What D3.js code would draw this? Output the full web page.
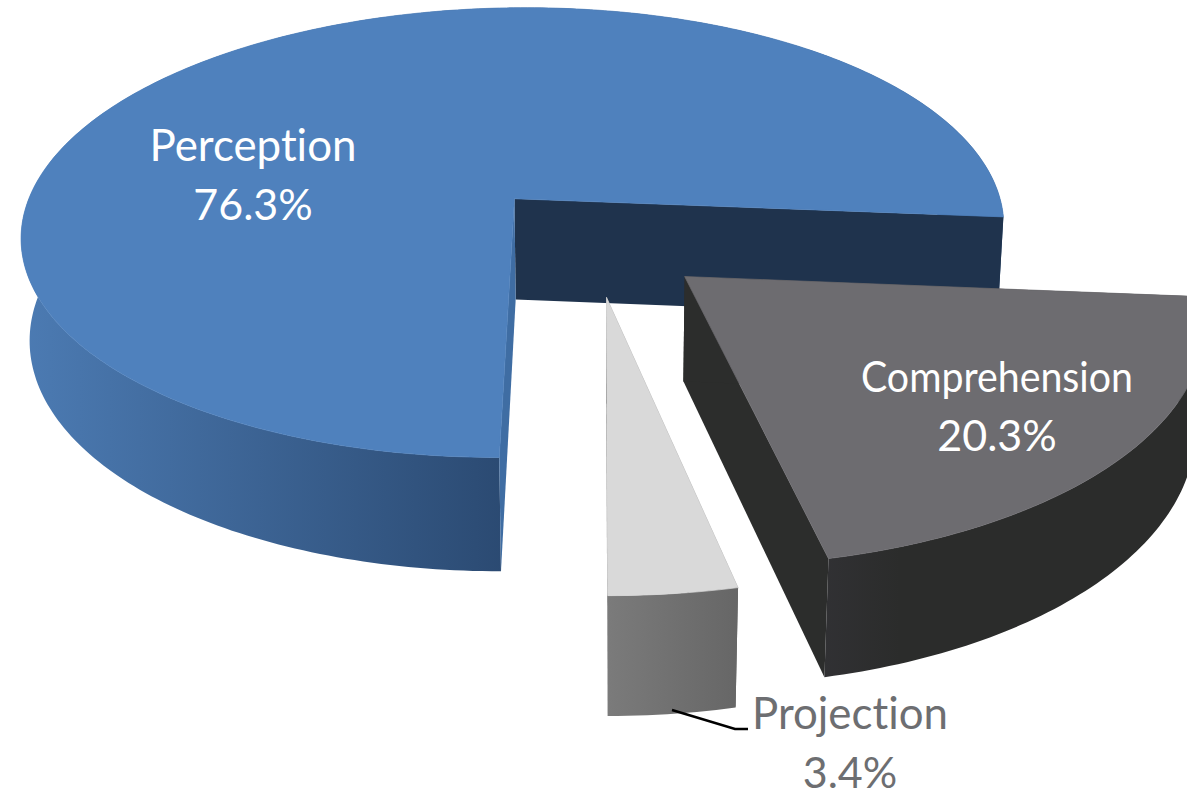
<!DOCTYPE html>
<html>
<head>
<meta charset="utf-8">
<script src="https://cdn.jsdelivr.net/npm/d3@7"></script>
<style>
  html, body { margin: 0; background: #fff; overflow: hidden; }
  svg { display: block; }
  text { font-family: Lato, "Open Sans", sans-serif; font-variant-ligatures: none; }
</style>
</head>
<body>
<script>
//Data
const categories = ["Perception", "Comprehension", "Projection"];
const shares = [76.3, 20.3, 3.4];
const explode = [0.26, 0.22, 0.23];

//Variables
const width = 1187;
const height = 791;
const startAngle = Math.PI;

//Camera for the tilted pie: X right, Y to the viewer, Z down
const x0 = 600, y0 = 242, fx = 500, fy = 233, fz = 104.5, persp = 0.155, convergence = 0.015;
const project = (X, Y, Z) => {
    const w = 1 - persp * Y + convergence * Z;
    return [x0 + fx * X / w, y0 + (fy * Y + fz * Z) / w];
};

const styles = [
    { top: "#4f81bd", inner: "#1f334d", cut: "#3f6da3", from: "#4c7bb3", to: "#2b4a72", x1: 20, x2: 505, text: "#fff", nudge: 0 },
    { top: "#6d6c70", inner: "#2c2d2c", cut: "#2c2d2c", from: "#313134", to: "#2b2c2b", x1: 820, x2: 900, text: "#fff", nudge: 0 },
    { top: "#d9d9d9", inner: "#5f5f5f", cut: "#5f5f5f", from: "#7b7b7b", to: "#666666", x1: 606, x2: 740, text: "#6d6e71", nudge: -0.012 }
];
const labelPos = [[253, 161], [997, 392], [850, 729]];
const labelSize = [[44, 43], [42, 43], [44, 43]];
const labelLength = [207, 272, 196];

const svg = d3.select("body")
    .append("svg")
    .attr("width", width)
    .attr("height", height)
    .attr("viewBox", `0 0 ${width} ${height}`);

const defs = svg.append("defs");
styles.forEach((s, i) => {
    const g = defs.append("linearGradient")
        .attr("id", `wall${i}`)
        .attr("gradientUnits", "userSpaceOnUse")
        .attr("x1", s.x1).attr("x2", s.x2).attr("y1", 0).attr("y2", 0);
    g.append("stop").attr("offset", 0).attr("stop-color", s.from);
    g.append("stop").attr("offset", 1).attr("stop-color", s.to);
});

//Slices, clockwise from the front
const pie = d3.pie().sort(null).startAngle(startAngle).endAngle(startAngle + 2 * Math.PI);
const slices = pie(shares);
const poly = d3.line();

slices.forEach((d, i) => {
    const s = styles[i];
    const mid = (d.startAngle + d.endAngle) / 2;
    const cx = explode[i] * Math.sin(mid) + s.nudge;
    const cy = -explode[i] * Math.cos(mid);
    const n = Math.ceil((d.endAngle - d.startAngle) * 60);
    const angles = d3.range(n + 1).map(k => d.startAngle + (d.endAngle - d.startAngle) * k / n);
    const rim = z => angles.map(a => project(cx + Math.sin(a), cy - Math.cos(a), z));
    const apex = z => project(cx, cy, z);
    const top = rim(0), bottom = rim(1);
    const g = svg.append("g").attr("class", "slice");

    const drawWall = () => g.append("path")
        .attr("d", poly(top.concat(bottom.slice().reverse())) + "Z")
        .attr("fill", `url(#wall${i})`);

    //the big slice shows its cut faces in front of the wall, small ones behind it
    const big = d.endAngle - d.startAngle > Math.PI;
    if (big) drawWall();
    g.append("path").attr("d", poly([top[n], bottom[n], apex(1), apex(0)]) + "Z").attr("fill", s.inner);
    g.append("path").attr("d", poly([top[0], bottom[0], apex(1), apex(0)]) + "Z").attr("fill", s.cut);
    if (!big) drawWall();

    //top face, thin stroke hides the dark faces under its edge
    g.append("path")
        .attr("d", poly([apex(0)].concat(top)) + "Z")
        .attr("fill", s.top)
        .attr("stroke", s.top)
        .attr("stroke-width", 0.7);
});

//Leader line of the small slice
svg.append("path")
    .attr("d", poly([[672, 710], [735, 729], [748, 729]]))
    .attr("fill", "none")
    .attr("stroke", "#000")
    .attr("stroke-width", 2.5);

//Labels
categories.forEach((c, i) => {
    const t = svg.append("text")
        .attr("text-anchor", "middle")
        .attr("fill", styles[i].text);
    t.append("tspan")
        .attr("x", labelPos[i][0]).attr("y", labelPos[i][1])
        .attr("font-size", labelSize[i][0])
        .attr("textLength", labelLength[i])
        .attr("lengthAdjust", "spacingAndGlyphs")
        .text(c);
    t.append("tspan")
        .attr("x", labelPos[i][0]).attr("y", labelPos[i][1] + 59)
        .attr("font-size", labelSize[i][1])
        .text(d3.format(".1f")(shares[i]) + "%");
});
</script>
</body>
</html>
